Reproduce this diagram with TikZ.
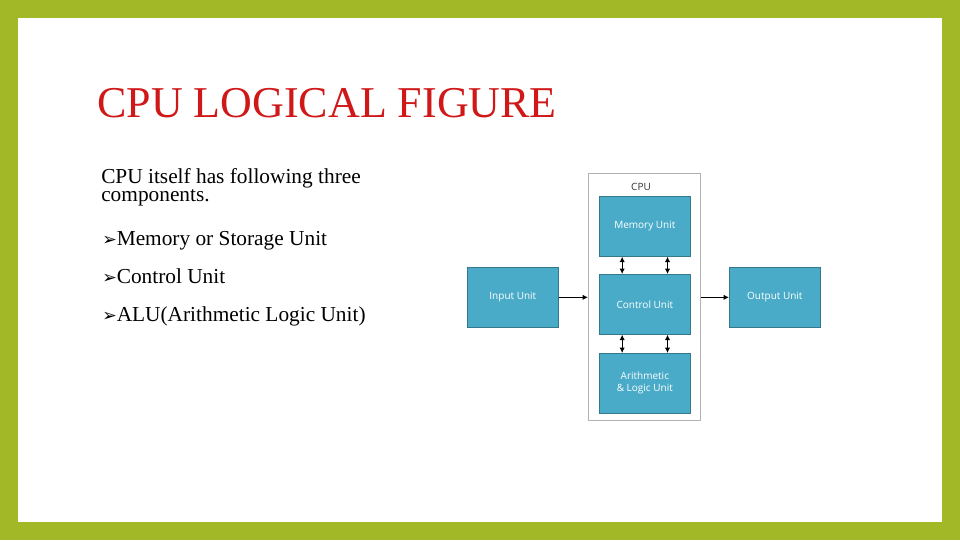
\documentclass[tikz,border=0pt]{standalone}
\usepackage{fontspec}
\usetikzlibrary{arrows.meta}
\setmainfont{Liberation Serif}
\newfontfamily\boxfont{Open Sans}
\newfontfamily\symfont{DejaVu Sans}
\definecolor{olive}{HTML}{A2B827}
\definecolor{unit}{HTML}{4AABC8}
\definecolor{ttl}{HTML}{D01818}
\begin{document}
\begin{tikzpicture}[x=0.75pt,y=-0.75pt,>={Latex[length=4pt,width=4pt]},
  unitbox/.style={fill=unit,draw=unit!70!black,line width=0.5pt,text=white,font=\boxfont\fontsize{7.5}{9}\selectfont,align=center,anchor=north west,inner sep=0pt},
  conn/.style={->,line width=0.9pt},
  dconn/.style={<->,line width=0.9pt},
  body/.style={anchor=base west,inner sep=0pt,font=\fontsize{16}{17}\selectfont,align=left}]
\useasboundingbox (0,0) rectangle (960,540);
\fill[olive] (0,0) rectangle (960,540);
\fill[white] (18,18) rectangle (942,522);
\node[anchor=base west,inner sep=0pt,text=ttl,font=\fontsize{33}{36}\selectfont] (title) at (97,117) {CPU LOGICAL FIGURE};
\node[body,anchor=north west] (intro) at (101,168) {CPU itself has following three\\[-3pt]components.};
\node[body] (b1) at (102,245) {{\symfont\fontsize{13}{12}\selectfont ➢}Memory or Storage Unit};
\node[body] (b2) at (102,283) {{\symfont\fontsize{13}{12}\selectfont ➢}Control Unit};
\node[body] (b3) at (102,321) {{\symfont\fontsize{13}{12}\selectfont ➢}ALU(Arithmetic Logic Unit)};
% CPU frame
\node[draw=gray!60,line width=1pt,minimum width=112*0.75pt,minimum height=247*0.75pt,anchor=north west,inner sep=0pt] (cpu) at (588,173) {};
\node[font=\boxfont\fontsize{7.5}{9}\selectfont,text=black!80] (cpul) at (641,187) {CPU};
\node[unitbox,minimum width=91*0.75pt,minimum height=60*0.75pt] (mem) at (599,196) {Memory Unit};
\node[unitbox,minimum width=91*0.75pt,minimum height=60*0.75pt] (ctl) at (599,274) {\raisebox{-4pt}{Control Unit}};
\node[unitbox,minimum width=91*0.75pt,minimum height=60*0.75pt] (alu) at (599,353) {Arithmetic\\\& Logic Unit};
\node[unitbox,minimum width=91*0.75pt,minimum height=60*0.75pt] (inp) at (467,267) {Input Unit};
\node[unitbox,minimum width=91*0.75pt,minimum height=60*0.75pt] (out) at (729,267) {Output Unit};
\draw[conn] (inp.east) -- (inp.east -| cpu.west);
\draw[conn] (out.west -| cpu.east) -- (out.west);
\draw[dconn] ([xshift=-17pt]mem.south) -- ([xshift=-17pt]mem.south |- ctl.north);
\draw[dconn] ([xshift=17pt]mem.south) -- ([xshift=17pt]mem.south |- ctl.north);
\draw[dconn] ([xshift=-17pt]ctl.south) -- ([xshift=-17pt]ctl.south |- alu.north);
\draw[dconn] ([xshift=17pt]ctl.south) -- ([xshift=17pt]ctl.south |- alu.north);
\end{tikzpicture}
\end{document}
